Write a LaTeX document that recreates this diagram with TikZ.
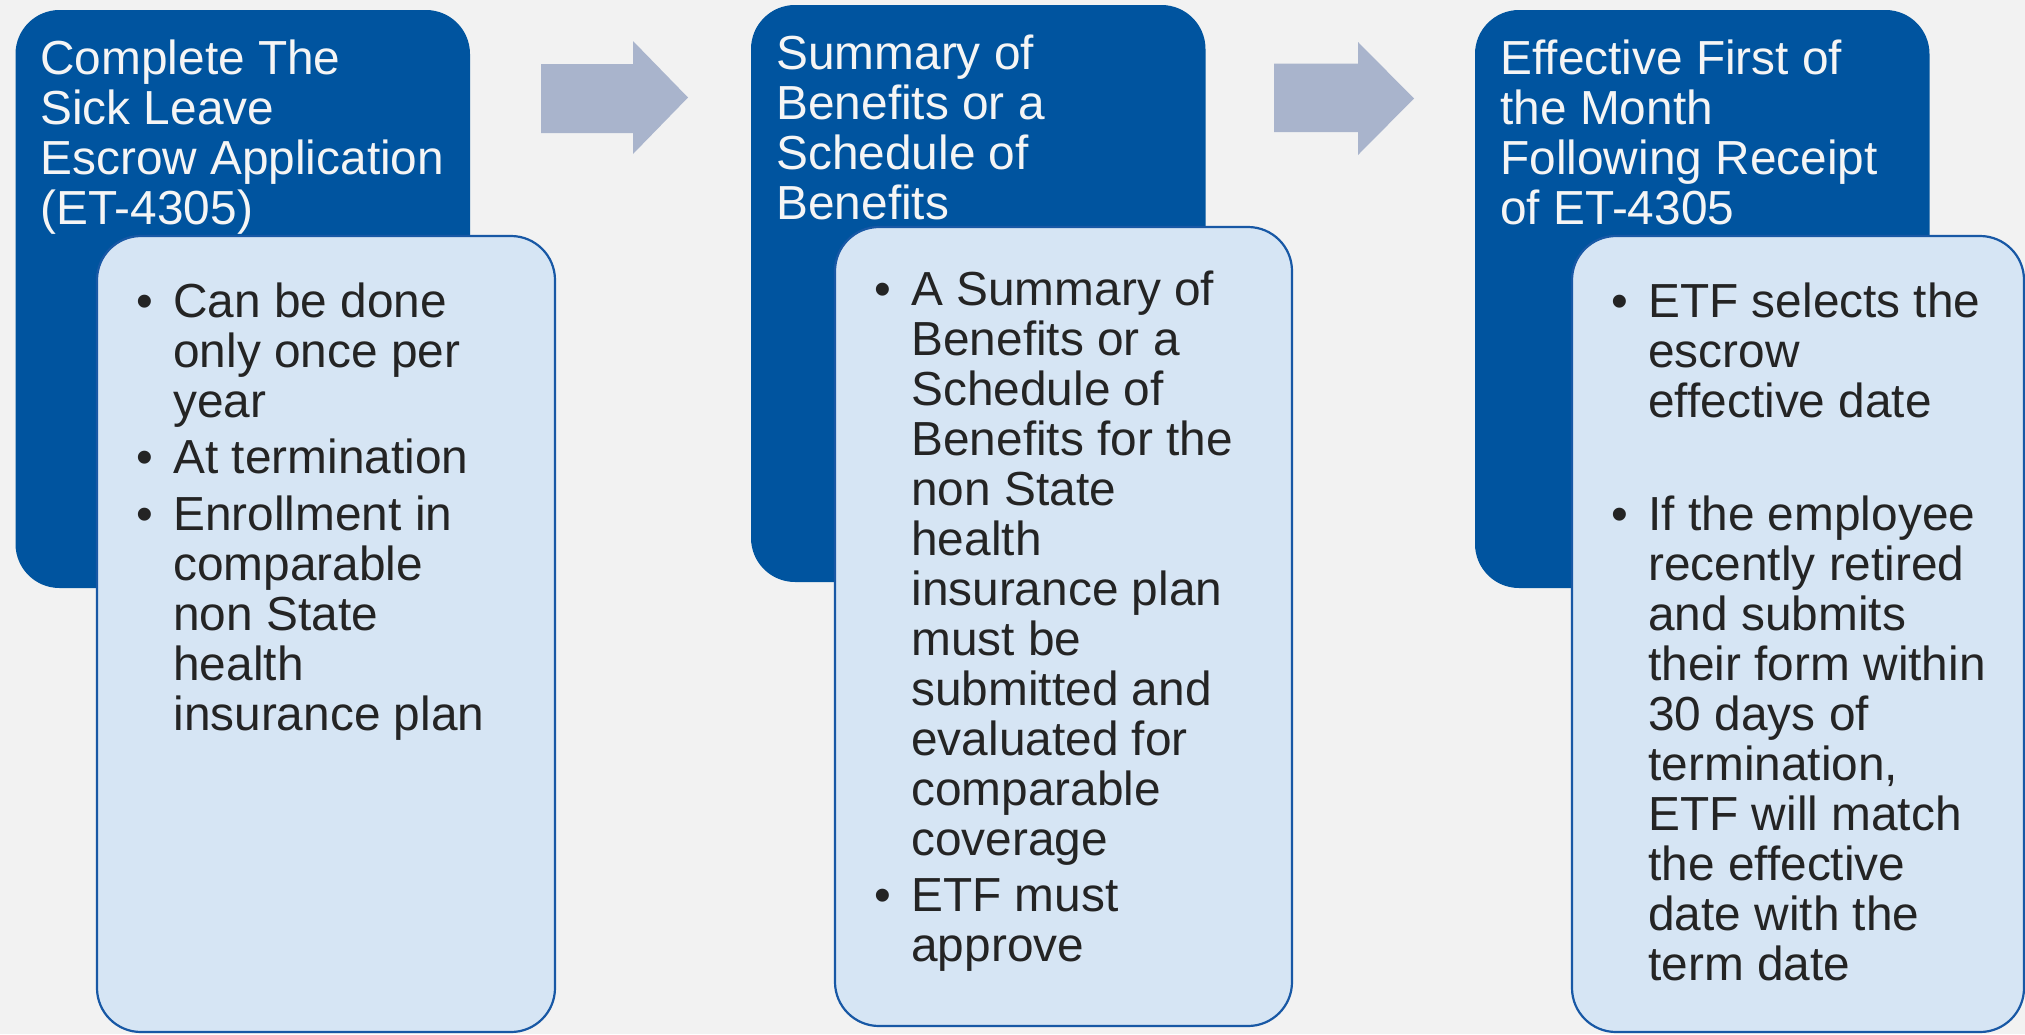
\documentclass[tikz,border=0pt]{standalone}
\usepackage{fontspec}
\setmainfont{Liberation Sans}
\definecolor{bgcol}{RGB}{242,242,242}
\definecolor{darkblue}{RGB}{0,84,159}
\definecolor{lightfill}{RGB}{214,229,244}
\definecolor{lightedge}{RGB}{24,88,165}
\definecolor{arrowgray}{RGB}{169,180,204}
\definecolor{bodytxt}{RGB}{36,36,36}
\definecolor{titletxt}{RGB}{245,245,245}
\newcommand{\mybul}{\leavevmode\llap{\makebox[18.5pt][l]{•}}}
\newcommand{\myfont}{\fontsize{23.9}{25.0}\selectfont}
\newcommand{\mybody}[1]{\parbox[t]{220pt}{\myfont\raggedright\setlength{\parskip}{3.4pt}#1}}
\newcommand{\mytitle}[1]{\parbox[t]{220pt}{\myfont\raggedright #1}}
\begin{document}
\begin{tikzpicture}[x=0.5pt,y=-0.5pt,
  darkbox/.style={fill=darkblue, rounded corners=22pt},
  lightbox/.style={fill=lightfill, draw=lightedge, line width=1.1pt, rounded corners=22pt},
  flowarrow/.style={fill=arrowgray},
  titletext/.style={anchor=base west, inner sep=0pt, text=titletxt},
  bodytext/.style={anchor=base west, inner sep=0pt, text=bodytxt}]
\fill[bgcol] (0,0) rectangle (2025,1034);
\useasboundingbox (0,0) rectangle (2025,1034);

% arrows
\fill[flowarrow] (541,64) -- (633,64) -- (633,41) -- (688,97.5) -- (633,154) -- (633,133) -- (541,133) -- cycle;
\fill[flowarrow] (1274,63.5) -- (1358,63.5) -- (1358,42) -- (1414,98.5) -- (1358,155) -- (1358,132) -- (1274,132) -- cycle;

% step 1
\fill[darkbox] (15.5,10) rectangle (470,588);
\node[titletext] (t1) at (40,74.6) {\mytitle{Complete The\\Sick Leave\\Escrow Application\\(ET-4305)}};
\draw[lightbox] (97,236) rectangle (555,1032);
\node[bodytext] (b1) at (173,317) {\mybody{\mybul Can be done\\only once per\\year\par
\mybul At termination\par
\mybul Enrollment in\\comparable\\non State\\health\\insurance plan}};

% step 2
\fill[darkbox] (751,5) rectangle (1205.5,582);
\node[titletext] (t2) at (776,69.7) {\mytitle{Summary of\\Benefits or a\\Schedule of\\Benefits}};
\draw[lightbox] (835,227) rectangle (1292,1026);
\node[bodytext] (b2) at (911,305) {\mybody{\mybul A Summary of\\Benefits or a\\Schedule of\\Benefits for the\\non State\\health\\insurance plan\\must be\\submitted and\\evaluated for\\comparable\\coverage\par
\mybul ETF must\\approve}};

% step 3
\fill[darkbox] (1475,10) rectangle (1929.5,588);
\node[titletext] (t3) at (1500,74.6) {\mytitle{Effective First of\\the Month\\Following Receipt\\of ET-4305}};
\draw[lightbox] (1572,236) rectangle (2024,1032);
\node[bodytext] (b3) at (1648,317) {\mybody{\mybul ETF selects the\\escrow\\effective date\par
\mbox{}\par
\mybul If the employee\\recently retired\\and submits\\their form within\\30 days of\\termination,\\ETF will match\\the effective\\date with the\\term date}};
\end{tikzpicture}
\end{document}
